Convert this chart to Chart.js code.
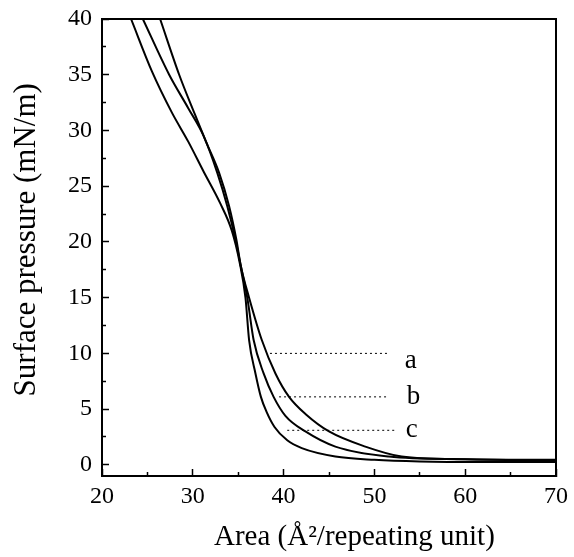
<!DOCTYPE html>
<html>
<head>
<meta charset="utf-8">
<script src="https://cdn.jsdelivr.net/npm/chart.js@4/dist/chart.umd.min.js"></script>
<style>
  html, body { margin: 0; padding: 0; background: #fff; }
  #wrap { width: 574px; height: 557px; }
</style>
</head>
<body>
<div id="wrap"><canvas id="isotherm"></canvas></div>
<script>
// ISOTHERM DATA (area in A^2 per repeating unit, pressure in mN/m)
const curve1_area = [23.2, 25.5, 27.7, 29.5, 31.2, 33.0, 34.3, 35.2, 35.8, 36.2, 36.9, 37.5, 38.1, 39.0, 40.4, 42.0, 45.7, 50.0, 55.0, 62.0, 70.0];
const curve1_press = [40, 35.3, 31.6, 29.0, 26.3, 23.5, 21.0, 18.0, 15.0, 11.2, 8.2, 6.1, 4.8, 3.4, 2.2, 1.5, 0.75, 0.45, 0.3, 0.25, 0.25];

const curve2_area = [24.5, 27.4, 29.5, 31.2, 32.7, 33.8, 34.7, 35.3, 36.0, 36.7, 37.8, 38.9, 40.2, 42.4, 45.7, 51.6, 60.0, 70.0];
const curve2_press = [40, 35, 32.0, 29.5, 26.2, 23.2, 20.2, 17.8, 15.0, 11.2, 8.2, 6.1, 4.4, 3.0, 1.64, 0.75, 0.5, 0.4];

const curve3_area = [26.4, 28.5, 30.2, 31.45, 32.9, 34.0, 34.8, 35.3, 36.2, 37.6, 39.1, 40.6, 42.5, 45.0, 49.0, 53.0, 60.0, 70.0];
const curve3_press = [40, 35, 31.5, 29.0, 26.2, 23.2, 20.2, 17.8, 15.0, 11.2, 8.2, 6.1, 4.5, 3.0, 1.64, 0.75, 0.5, 0.45];

// dotted marker lines and their letters
const marker_names = ["a", "b", "c"];
const marker_from = [38.5, 39.5, 40.4];
const marker_to = [51.6, 51.4, 52.3];
const marker_press = [10, 6.1, 3.1];
const letter_area = [54.0, 54.3, 54.1];
const letter_press = [8.7, 5.5, 2.5];

// AXES
const x_major = [20, 30, 40, 50, 60, 70];
const x_minor = [25, 35, 45, 55, 65];
const y_major = [0, 5, 10, 15, 20, 25, 30, 35, 40];
const y_minor = [2.5, 7.5, 12.5, 17.5, 22.5, 27.5, 32.5, 37.5];

function zip(xs, ys) {
  return xs.map((x, i) => ({ x: x, y: ys[i] }));
}

const curve_sets = [
  [curve1_area, curve1_press],
  [curve2_area, curve2_press],
  [curve3_area, curve3_press],
].map((c, i) => ({
  label: "curve " + (i + 1),
  data: zip(c[0], c[1]),
  borderColor: "#000",
  borderWidth: 2,
  pointRadius: 0,
  cubicInterpolationMode: "monotone",
  fill: false,
}));

const marker_sets = marker_names.map((n, i) => ({
  label: n,
  data: [{ x: marker_from[i], y: marker_press[i] }, { x: marker_to[i], y: marker_press[i] }],
  borderColor: "#000",
  borderWidth: 1,
  borderDash: [2, 3],
  pointRadius: 0,
  fill: false,
}));

// frame on the top and right + the a/b/c letters
const extras = {
  id: "extras",
  afterDatasetsDraw(chart) {
    const { ctx, chartArea: area, scales } = chart;
    ctx.save();
    ctx.strokeStyle = "#000";
    ctx.lineWidth = 2;
    ctx.beginPath();
    ctx.moveTo(area.left, area.top);
    ctx.lineTo(area.right, area.top);
    ctx.lineTo(area.right, area.bottom);
    ctx.stroke();

    ctx.fillStyle = "#000";
    ctx.font = "27px 'Liberation Serif'";
    ctx.textAlign = "center";
    ctx.textBaseline = "alphabetic";
    marker_names.forEach((n, i) => {
      ctx.fillText(n, scales.x.getPixelForValue(letter_area[i]), scales.y.getPixelForValue(letter_press[i]));
    });
    ctx.restore();
  },
};

// fixed axis sizes, no extra room for overhanging labels
function fixSize(w, h) {
  return (s) => {
    if (w !== null) s.width = w;
    if (h !== null) s.height = h;
    s.paddingTop = 0;
    s.paddingBottom = 0;
    s.paddingLeft = 0;
    s.paddingRight = 0;
  };
}

Chart.defaults.font.family = "'Liberation Serif', serif";
Chart.defaults.color = "#000";

const ctx = document.getElementById("isotherm").getContext("2d");
new Chart(ctx, {
  type: "line",
  data: { datasets: curve_sets.concat(marker_sets) },
  plugins: [extras],
  options: {
    responsive: true,
    maintainAspectRatio: false,
    animation: false,
    layout: { padding: { top: 19, right: 18, left: 0, bottom: 0 } },
    plugins: { legend: { display: false }, tooltip: { enabled: false } },
    scales: {
      x: {
        type: "linear",
        position: "bottom",
        weight: 1,
        min: 20,
        max: 70,
        afterBuildTicks: (s) => { s.ticks = x_major.map((v) => ({ value: v })); },
        afterFit: fixSize(null, 81),
        ticks: { font: { size: 24 }, padding: 13, color: "#000" },
        grid: { drawOnChartArea: false, tickLength: -7, tickColor: "#000", tickWidth: 1.5 },
        border: { color: "#000", width: 2 },
        title: {
          display: true,
          text: "       Area (Å²/repeating unit)",
          font: { size: 29 },
          color: "#000",
          padding: { top: 0, bottom: 2 },
        },
      },
      xMinor: {
        type: "linear",
        position: "bottom",
        weight: 0,
        min: 20,
        max: 70,
        afterBuildTicks: (s) => { s.ticks = x_minor.map((v) => ({ value: v })); },
        afterFit: fixSize(null, 0),
        ticks: { display: false },
        grid: { drawOnChartArea: false, tickLength: -4, tickColor: "#000", tickWidth: 1.5 },
        border: { display: false },
      },
      y: {
        type: "linear",
        position: "left",
        weight: 1,
        min: -1,
        max: 40,
        afterBuildTicks: (s) => { s.ticks = y_major.map((v) => ({ value: v })); },
        afterFit: fixSize(102, null),
        ticks: { font: { size: 24 }, padding: 17, color: "#000" },
        grid: { drawOnChartArea: false, tickLength: -7, tickColor: "#000", tickWidth: 1.5 },
        border: { color: "#000", width: 2 },
        title: {
          display: true,
          text: "  Surface pressure (mN/m)",
          font: { size: 31 },
          color: "#000",
          padding: { top: 8, bottom: 0 },
        },
      },
      yMinor: {
        type: "linear",
        position: "left",
        weight: 0,
        min: -1,
        max: 40,
        afterBuildTicks: (s) => { s.ticks = y_minor.map((v) => ({ value: v })); },
        afterFit: fixSize(0, null),
        ticks: { display: false },
        grid: { drawOnChartArea: false, tickLength: -4, tickColor: "#000", tickWidth: 1.5 },
        border: { display: false },
      },
    },
  },
});
</script>
</body>
</html>
